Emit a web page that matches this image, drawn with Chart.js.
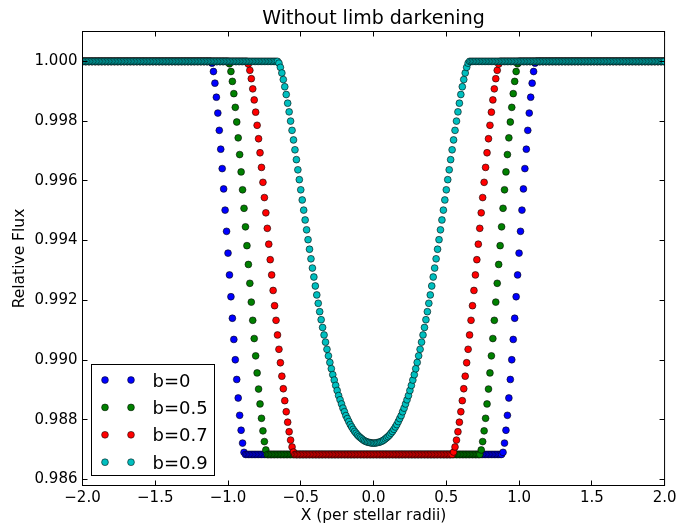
<!DOCTYPE html>
<html><head><meta charset="utf-8">
<script src="https://cdn.jsdelivr.net/npm/chart.js@4/dist/chart.umd.min.js"></script>
<style>html,body{margin:0;padding:0;background:#fff}canvas{display:block}</style>
</head><body>
<canvas id="c" width="680" height="527"></canvas>
<script>
const chartTitle = 'Without limb darkening';
const xLabel = 'X (per stellar radii)';
const yLabel = 'Relative Flux';
const seriesNames = ['b=0', 'b=0.5', 'b=0.7', 'b=0.9'];
const seriesColors = ['#0000ff', '#008000', '#ff0000', '#00bfbf'];
const xTicks = [-2, -1.5, -1, -0.5, 0, 0.5, 1, 1.5, 2];
const yTicks = [0.986, 0.988, 0.99, 0.992, 0.994, 0.996, 0.998, 1.0];

const xValues = [
-2,-1.99,-1.98,-1.97,-1.96,-1.95,-1.94,-1.93,-1.92,-1.91,
-1.9,-1.89,-1.88,-1.87,-1.86,-1.85,-1.84,-1.83,-1.82,-1.81,
-1.8,-1.79,-1.78,-1.77,-1.76,-1.75,-1.74,-1.73,-1.72,-1.71,
-1.7,-1.69,-1.68,-1.67,-1.66,-1.65,-1.64,-1.63,-1.62,-1.61,
-1.6,-1.59,-1.58,-1.57,-1.56,-1.55,-1.54,-1.53,-1.52,-1.51,
-1.5,-1.49,-1.48,-1.47,-1.46,-1.45,-1.44,-1.43,-1.42,-1.41,
-1.4,-1.39,-1.38,-1.37,-1.36,-1.35,-1.34,-1.33,-1.32,-1.31,
-1.3,-1.29,-1.28,-1.27,-1.26,-1.25,-1.24,-1.23,-1.22,-1.21,
-1.2,-1.19,-1.18,-1.17,-1.16,-1.15,-1.14,-1.13,-1.12,-1.11,
-1.1,-1.09,-1.08,-1.07,-1.06,-1.05,-1.04,-1.03,-1.02,-1.01,
-1,-0.99,-0.98,-0.97,-0.96,-0.95,-0.94,-0.93,-0.92,-0.91,
-0.9,-0.89,-0.88,-0.87,-0.86,-0.85,-0.84,-0.83,-0.82,-0.81,
-0.8,-0.79,-0.78,-0.77,-0.76,-0.75,-0.74,-0.73,-0.72,-0.71,
-0.7,-0.69,-0.68,-0.67,-0.66,-0.65,-0.64,-0.63,-0.62,-0.61,
-0.6,-0.59,-0.58,-0.57,-0.56,-0.55,-0.54,-0.53,-0.52,-0.51,
-0.5,-0.49,-0.48,-0.47,-0.46,-0.45,-0.44,-0.43,-0.42,-0.41,
-0.4,-0.39,-0.38,-0.37,-0.36,-0.35,-0.34,-0.33,-0.32,-0.31,
-0.3,-0.29,-0.28,-0.27,-0.26,-0.25,-0.24,-0.23,-0.22,-0.21,
-0.2,-0.19,-0.18,-0.17,-0.16,-0.15,-0.14,-0.13,-0.12,-0.11,
-0.1,-0.09,-0.08,-0.07,-0.06,-0.05,-0.04,-0.03,-0.02,-0.01,
0,0.01,0.02,0.03,0.04,0.05,0.06,0.07,0.08,0.09,
0.1,0.11,0.12,0.13,0.14,0.15,0.16,0.17,0.18,0.19,
0.2,0.21,0.22,0.23,0.24,0.25,0.26,0.27,0.28,0.29,
0.3,0.31,0.32,0.33,0.34,0.35,0.36,0.37,0.38,0.39,
0.4,0.41,0.42,0.43,0.44,0.45,0.46,0.47,0.48,0.49,
0.5,0.51,0.52,0.53,0.54,0.55,0.56,0.57,0.58,0.59,
0.6,0.61,0.62,0.63,0.64,0.65,0.66,0.67,0.68,0.69,
0.7,0.71,0.72,0.73,0.74,0.75,0.76,0.77,0.78,0.79,
0.8,0.81,0.82,0.83,0.84,0.85,0.86,0.87,0.88,0.89,
0.9,0.91,0.92,0.93,0.94,0.95,0.96,0.97,0.98,0.99,
1,1.01,1.02,1.03,1.04,1.05,1.06,1.07,1.08,1.09,
1.1,1.11,1.12,1.13,1.14,1.15,1.16,1.17,1.18,1.19,
1.2,1.21,1.22,1.23,1.24,1.25,1.26,1.27,1.28,1.29,
1.3,1.31,1.32,1.33,1.34,1.35,1.36,1.37,1.38,1.39,
1.4,1.41,1.42,1.43,1.44,1.45,1.46,1.47,1.48,1.49,
1.5,1.51,1.52,1.53,1.54,1.55,1.56,1.57,1.58,1.59,
1.6,1.61,1.62,1.63,1.64,1.65,1.66,1.67,1.68,1.69,
1.7,1.71,1.72,1.73,1.74,1.75,1.76,1.77,1.78,1.79,
1.8,1.81,1.82,1.83,1.84,1.85,1.86,1.87,1.88,1.89,
1.9,1.91,1.92,1.93,1.94,1.95,1.96,1.97,1.98,1.99,
2];

const fluxB0 = [
1,1,1,1,1,1,1,1,1,1,
1,1,1,1,1,1,1,1,1,1,
1,1,1,1,1,1,1,1,1,1,
1,1,1,1,1,1,1,1,1,1,
1,1,1,1,1,1,1,1,1,1,
1,1,1,1,1,1,1,1,1,1,
1,1,1,1,1,1,1,1,1,1,
1,1,1,1,1,1,1,1,1,1,
1,1,1,1,1,1,1,1,1,0.99994,
0.99966,0.99927,0.99880,0.99827,0.99769,0.99706,0.99641,0.99573,0.99502,0.99431,
0.99358,0.99285,0.99212,0.99140,0.99069,0.99001,0.98935,0.98873,0.98815,0.98765,
0.98722,0.98691,0.98684,0.98684,0.98684,0.98684,0.98684,0.98684,0.98684,0.98684,
0.98684,0.98684,0.98684,0.98684,0.98684,0.98684,0.98684,0.98684,0.98684,0.98684,
0.98684,0.98684,0.98684,0.98684,0.98684,0.98684,0.98684,0.98684,0.98684,0.98684,
0.98684,0.98684,0.98684,0.98684,0.98684,0.98684,0.98684,0.98684,0.98684,0.98684,
0.98684,0.98684,0.98684,0.98684,0.98684,0.98684,0.98684,0.98684,0.98684,0.98684,
0.98684,0.98684,0.98684,0.98684,0.98684,0.98684,0.98684,0.98684,0.98684,0.98684,
0.98684,0.98684,0.98684,0.98684,0.98684,0.98684,0.98684,0.98684,0.98684,0.98684,
0.98684,0.98684,0.98684,0.98684,0.98684,0.98684,0.98684,0.98684,0.98684,0.98684,
0.98684,0.98684,0.98684,0.98684,0.98684,0.98684,0.98684,0.98684,0.98684,0.98684,
0.98684,0.98684,0.98684,0.98684,0.98684,0.98684,0.98684,0.98684,0.98684,0.98684,
0.98684,0.98684,0.98684,0.98684,0.98684,0.98684,0.98684,0.98684,0.98684,0.98684,
0.98684,0.98684,0.98684,0.98684,0.98684,0.98684,0.98684,0.98684,0.98684,0.98684,
0.98684,0.98684,0.98684,0.98684,0.98684,0.98684,0.98684,0.98684,0.98684,0.98684,
0.98684,0.98684,0.98684,0.98684,0.98684,0.98684,0.98684,0.98684,0.98684,0.98684,
0.98684,0.98684,0.98684,0.98684,0.98684,0.98684,0.98684,0.98684,0.98684,0.98684,
0.98684,0.98684,0.98684,0.98684,0.98684,0.98684,0.98684,0.98684,0.98684,0.98684,
0.98684,0.98684,0.98684,0.98684,0.98684,0.98684,0.98684,0.98684,0.98684,0.98684,
0.98684,0.98684,0.98684,0.98684,0.98684,0.98684,0.98684,0.98684,0.98684,0.98691,
0.98722,0.98765,0.98815,0.98873,0.98935,0.99001,0.99069,0.99140,0.99212,0.99285,
0.99358,0.99431,0.99502,0.99573,0.99641,0.99706,0.99769,0.99827,0.99880,0.99927,
0.99966,0.99994,1,1,1,1,1,1,1,1,
1,1,1,1,1,1,1,1,1,1,
1,1,1,1,1,1,1,1,1,1,
1,1,1,1,1,1,1,1,1,1,
1,1,1,1,1,1,1,1,1,1,
1,1,1,1,1,1,1,1,1,1,
1,1,1,1,1,1,1,1,1,1,
1,1,1,1,1,1,1,1,1,1,
1,1,1,1,1,1,1,1,1,1,
1];

const fluxB05 = [
1,1,1,1,1,1,1,1,1,1,
1,1,1,1,1,1,1,1,1,1,
1,1,1,1,1,1,1,1,1,1,
1,1,1,1,1,1,1,1,1,1,
1,1,1,1,1,1,1,1,1,1,
1,1,1,1,1,1,1,1,1,1,
1,1,1,1,1,1,1,1,1,1,
1,1,1,1,1,1,1,1,1,1,
1,1,1,1,1,1,1,1,1,1,
1,1,1,1,1,1,1,1,1,1,
1,0.99992,0.99966,0.99933,0.99892,0.99846,0.99797,0.99744,0.99688,0.99630,
0.99570,0.99508,0.99446,0.99383,0.99320,0.99257,0.99194,0.99133,0.99072,0.99014,
0.98957,0.98903,0.98853,0.98805,0.98763,0.98727,0.98699,0.98684,0.98684,0.98684,
0.98684,0.98684,0.98684,0.98684,0.98684,0.98684,0.98684,0.98684,0.98684,0.98684,
0.98684,0.98684,0.98684,0.98684,0.98684,0.98684,0.98684,0.98684,0.98684,0.98684,
0.98684,0.98684,0.98684,0.98684,0.98684,0.98684,0.98684,0.98684,0.98684,0.98684,
0.98684,0.98684,0.98684,0.98684,0.98684,0.98684,0.98684,0.98684,0.98684,0.98684,
0.98684,0.98684,0.98684,0.98684,0.98684,0.98684,0.98684,0.98684,0.98684,0.98684,
0.98684,0.98684,0.98684,0.98684,0.98684,0.98684,0.98684,0.98684,0.98684,0.98684,
0.98684,0.98684,0.98684,0.98684,0.98684,0.98684,0.98684,0.98684,0.98684,0.98684,
0.98684,0.98684,0.98684,0.98684,0.98684,0.98684,0.98684,0.98684,0.98684,0.98684,
0.98684,0.98684,0.98684,0.98684,0.98684,0.98684,0.98684,0.98684,0.98684,0.98684,
0.98684,0.98684,0.98684,0.98684,0.98684,0.98684,0.98684,0.98684,0.98684,0.98684,
0.98684,0.98684,0.98684,0.98684,0.98684,0.98684,0.98684,0.98684,0.98684,0.98684,
0.98684,0.98684,0.98684,0.98684,0.98684,0.98684,0.98684,0.98684,0.98684,0.98684,
0.98684,0.98684,0.98684,0.98684,0.98684,0.98684,0.98684,0.98684,0.98684,0.98684,
0.98684,0.98684,0.98684,0.98684,0.98684,0.98684,0.98684,0.98684,0.98684,0.98684,
0.98684,0.98684,0.98684,0.98684,0.98699,0.98727,0.98763,0.98805,0.98853,0.98903,
0.98957,0.99014,0.99072,0.99133,0.99194,0.99257,0.99320,0.99383,0.99446,0.99508,
0.99570,0.99630,0.99688,0.99744,0.99797,0.99846,0.99892,0.99933,0.99966,0.99992,
1,1,1,1,1,1,1,1,1,1,
1,1,1,1,1,1,1,1,1,1,
1,1,1,1,1,1,1,1,1,1,
1,1,1,1,1,1,1,1,1,1,
1,1,1,1,1,1,1,1,1,1,
1,1,1,1,1,1,1,1,1,1,
1,1,1,1,1,1,1,1,1,1,
1,1,1,1,1,1,1,1,1,1,
1,1,1,1,1,1,1,1,1,1,
1,1,1,1,1,1,1,1,1,1,
1];

const fluxB07 = [
1,1,1,1,1,1,1,1,1,1,
1,1,1,1,1,1,1,1,1,1,
1,1,1,1,1,1,1,1,1,1,
1,1,1,1,1,1,1,1,1,1,
1,1,1,1,1,1,1,1,1,1,
1,1,1,1,1,1,1,1,1,1,
1,1,1,1,1,1,1,1,1,1,
1,1,1,1,1,1,1,1,1,1,
1,1,1,1,1,1,1,1,1,1,
1,1,1,1,1,1,1,1,1,1,
1,1,1,1,1,1,1,1,1,1,
1,1,1,1,0.99991,0.99970,0.99942,0.99908,0.99871,0.99830,
0.99786,0.99741,0.99694,0.99645,0.99595,0.99544,0.99493,0.99441,0.99388,0.99336,
0.99285,0.99233,0.99182,0.99133,0.99084,0.99036,0.98991,0.98946,0.98904,0.98864,
0.98827,0.98792,0.98760,0.98732,0.98709,0.98692,0.98684,0.98684,0.98684,0.98684,
0.98684,0.98684,0.98684,0.98684,0.98684,0.98684,0.98684,0.98684,0.98684,0.98684,
0.98684,0.98684,0.98684,0.98684,0.98684,0.98684,0.98684,0.98684,0.98684,0.98684,
0.98684,0.98684,0.98684,0.98684,0.98684,0.98684,0.98684,0.98684,0.98684,0.98684,
0.98684,0.98684,0.98684,0.98684,0.98684,0.98684,0.98684,0.98684,0.98684,0.98684,
0.98684,0.98684,0.98684,0.98684,0.98684,0.98684,0.98684,0.98684,0.98684,0.98684,
0.98684,0.98684,0.98684,0.98684,0.98684,0.98684,0.98684,0.98684,0.98684,0.98684,
0.98684,0.98684,0.98684,0.98684,0.98684,0.98684,0.98684,0.98684,0.98684,0.98684,
0.98684,0.98684,0.98684,0.98684,0.98684,0.98684,0.98684,0.98684,0.98684,0.98684,
0.98684,0.98684,0.98684,0.98684,0.98684,0.98684,0.98684,0.98684,0.98684,0.98684,
0.98684,0.98684,0.98684,0.98684,0.98684,0.98684,0.98684,0.98684,0.98684,0.98684,
0.98684,0.98684,0.98684,0.98684,0.98684,0.98692,0.98709,0.98732,0.98760,0.98792,
0.98827,0.98864,0.98904,0.98946,0.98991,0.99036,0.99084,0.99133,0.99182,0.99233,
0.99285,0.99336,0.99388,0.99441,0.99493,0.99544,0.99595,0.99645,0.99694,0.99741,
0.99786,0.99830,0.99871,0.99908,0.99942,0.99970,0.99991,1,1,1,
1,1,1,1,1,1,1,1,1,1,
1,1,1,1,1,1,1,1,1,1,
1,1,1,1,1,1,1,1,1,1,
1,1,1,1,1,1,1,1,1,1,
1,1,1,1,1,1,1,1,1,1,
1,1,1,1,1,1,1,1,1,1,
1,1,1,1,1,1,1,1,1,1,
1,1,1,1,1,1,1,1,1,1,
1,1,1,1,1,1,1,1,1,1,
1,1,1,1,1,1,1,1,1,1,
1,1,1,1,1,1,1,1,1,1,
1];

const fluxB09 = [
1,1,1,1,1,1,1,1,1,1,
1,1,1,1,1,1,1,1,1,1,
1,1,1,1,1,1,1,1,1,1,
1,1,1,1,1,1,1,1,1,1,
1,1,1,1,1,1,1,1,1,1,
1,1,1,1,1,1,1,1,1,1,
1,1,1,1,1,1,1,1,1,1,
1,1,1,1,1,1,1,1,1,1,
1,1,1,1,1,1,1,1,1,1,
1,1,1,1,1,1,1,1,1,1,
1,1,1,1,1,1,1,1,1,1,
1,1,1,1,1,1,1,1,1,1,
1,1,1,1,1,1,1,1,1,1,
1,1,1,1,1,0.99994,0.99980,0.99961,0.99939,0.99915,
0.99889,0.99860,0.99831,0.99800,0.99769,0.99737,0.99704,0.99671,0.99637,0.99604,
0.99570,0.99536,0.99502,0.99469,0.99436,0.99403,0.99371,0.99339,0.99308,0.99278,
0.99248,0.99218,0.99190,0.99162,0.99135,0.99109,0.99084,0.99060,0.99036,0.99014,
0.98992,0.98971,0.98951,0.98933,0.98915,0.98898,0.98881,0.98867,0.98853,0.98839,
0.98827,0.98814,0.98804,0.98794,0.98784,0.98776,0.98768,0.98761,0.98755,0.98749,
0.98744,0.98740,0.98736,0.98732,0.98729,0.98727,0.98725,0.98724,0.98723,0.98722,
0.98722,0.98722,0.98723,0.98724,0.98725,0.98727,0.98729,0.98732,0.98736,0.98740,
0.98744,0.98749,0.98755,0.98761,0.98768,0.98776,0.98784,0.98794,0.98804,0.98814,
0.98827,0.98839,0.98853,0.98867,0.98881,0.98898,0.98915,0.98933,0.98951,0.98971,
0.98992,0.99014,0.99036,0.99060,0.99084,0.99109,0.99135,0.99162,0.99190,0.99218,
0.99248,0.99278,0.99308,0.99339,0.99371,0.99403,0.99436,0.99469,0.99502,0.99536,
0.99570,0.99604,0.99637,0.99671,0.99704,0.99737,0.99769,0.99800,0.99831,0.99860,
0.99889,0.99915,0.99939,0.99961,0.99980,0.99994,1,1,1,1,
1,1,1,1,1,1,1,1,1,1,
1,1,1,1,1,1,1,1,1,1,
1,1,1,1,1,1,1,1,1,1,
1,1,1,1,1,1,1,1,1,1,
1,1,1,1,1,1,1,1,1,1,
1,1,1,1,1,1,1,1,1,1,
1,1,1,1,1,1,1,1,1,1,
1,1,1,1,1,1,1,1,1,1,
1,1,1,1,1,1,1,1,1,1,
1,1,1,1,1,1,1,1,1,1,
1,1,1,1,1,1,1,1,1,1,
1,1,1,1,1,1,1,1,1,1,
1,1,1,1,1,1,1,1,1,1,
1];

const seriesFlux = [fluxB0, fluxB05, fluxB07, fluxB09];

Chart.defaults.font.family = "'DejaVu Sans', 'Liberation Sans', sans-serif";
Chart.defaults.color = '#000';

const MARKER_R = 3.4;
const EDGE = 'rgba(0,0,0,0.9)';

const frameAndTicks = {
  id: 'frameAndTicks',
  afterDatasetsDraw(chart) {
    const { ctx, chartArea: a, scales: { x, y } } = chart;
    ctx.save();
    ctx.strokeStyle = '#000';
    ctx.lineWidth = 1;
    ctx.beginPath();
    xTicks.forEach(v => {
      const px = Math.round(x.getPixelForValue(v) - 0.5) + 0.5;
      ctx.moveTo(px, a.bottom); ctx.lineTo(px, a.bottom - 5);
      ctx.moveTo(px, a.top); ctx.lineTo(px, a.top + 5);
    });
    yTicks.forEach(v => {
      const py = Math.round(y.getPixelForValue(v) - 0.5) + 0.5;
      ctx.moveTo(a.left, py); ctx.lineTo(a.left + 5, py);
      ctx.moveTo(a.right, py); ctx.lineTo(a.right - 5, py);
    });
    ctx.stroke();
    ctx.strokeRect(a.left, a.top, a.right - a.left, a.bottom - a.top);
    ctx.restore();
  }
};

const boxedLegend = {
  id: 'boxedLegend',
  afterDraw(chart) {
    const { ctx, chartArea: a } = chart;
    const left = a.left + 9, top = a.bottom - 121, w = 123, h = 111;
    ctx.save();
    ctx.fillStyle = '#fff';
    ctx.fillRect(left, top, w, h);
    ctx.strokeStyle = '#000';
    ctx.lineWidth = 1;
    ctx.strokeRect(left, top, w, h);
    ctx.font = "18px 'DejaVu Sans', sans-serif";
    ctx.textBaseline = 'alphabetic';
    ctx.textAlign = 'left';
    seriesNames.forEach((name, k) => {
      const cy = top + 15.5 + k * 27.4;
      [left + 13.5, left + 39.5].forEach(cx => {
        ctx.beginPath();
        ctx.arc(cx, cy, MARKER_R, 0, Math.PI * 2);
        ctx.fillStyle = seriesColors[k];
        ctx.fill();
        ctx.lineWidth = 0.6;
        ctx.strokeStyle = EDGE;
        ctx.stroke();
      });
      ctx.fillStyle = '#000';
      ctx.fillText(name, left + 61, cy + 6.6);
    });
    ctx.restore();
  }
};

new Chart(document.getElementById('c'), {
  type: 'scatter',
  data: {
    datasets: seriesNames.map((name, k) => ({
      label: name,
      data: xValues.map((xv, i) => ({ x: xv, y: seriesFlux[k][i] })),
      backgroundColor: seriesColors[k],
      borderColor: EDGE,
      borderWidth: 0.65,
      pointRadius: MARKER_R,
      pointHoverRadius: MARKER_R,
      order: 3 - k,
      clip: 0
    }))
  },
  options: {
    responsive: false,
    devicePixelRatio: 1,
    animation: false,
    events: [],
    layout: { padding: { left: 0, right: 11.5, top: 0, bottom: 0 } },
    plugins: {
      legend: { display: false },
      tooltip: { enabled: false },
      title: {
        display: true,
        text: chartTitle,
        fullSize: false,
        font: { size: 19, weight: 'normal', lineHeight: 1.2 },
        padding: { top: 8, bottom: 0.7 }
      }
    },
    scales: {
      x: {
        type: 'linear',
        min: -2, max: 2,
        grid: { display: false, drawTicks: false },
        border: { display: false },
        afterBuildTicks: s => { s.ticks = xTicks.map(v => ({ value: v })); },
        afterFit: s => { s.height = 41.5; },
        ticks: {
          padding: 3.5,
          maxRotation: 0,
          font: { size: 15 },
          callback: v => Number(v).toFixed(1).replace('-', '\u2212')
        },
        title: {
          display: true,
          text: xLabel,
          font: { size: 15.5 },
          padding: { top: 0, bottom: 2 }
        }
      },
      y: {
        type: 'linear',
        min: 0.9858, max: 1.001,
        grid: { display: false, drawTicks: false },
        border: { display: false },
        afterBuildTicks: s => { s.ticks = yTicks.map(v => ({ value: v })); },
        afterFit: s => { s.width = 82.5; },
        ticks: {
          padding: 5,
          font: { size: 15 },
          callback: v => Number(v).toFixed(3)
        },
        title: {
          display: true,
          text: yLabel,
          font: { size: 15.5 },
          padding: { top: 11, bottom: 0 }
        }
      }
    }
  },
  plugins: [frameAndTicks, boxedLegend]
});
</script>
</body></html>
